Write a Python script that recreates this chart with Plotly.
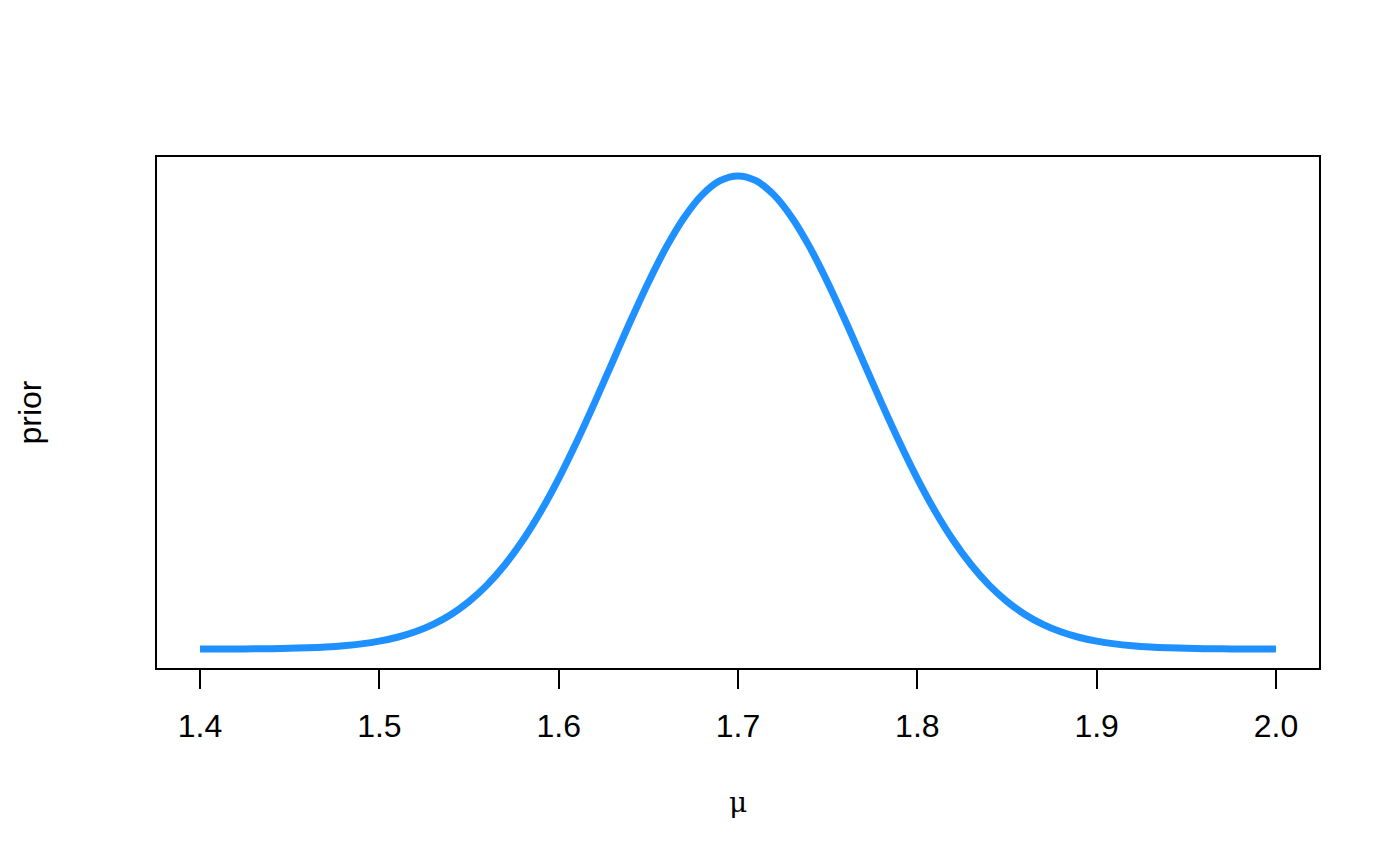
import plotly.graph_objects as go

# prior density (mu on x, prior height on y)
mu = [1.40, 1.41, 1.42, 1.43, 1.44, 1.45, 1.46, 1.47, 1.48, 1.49,
      1.50, 1.51, 1.52, 1.53, 1.54, 1.55, 1.56, 1.57, 1.58, 1.59,
      1.60, 1.61, 1.62, 1.63, 1.64, 1.65, 1.66, 1.67, 1.68, 1.69,
      1.70, 1.71, 1.72, 1.73, 1.74, 1.75, 1.76, 1.77, 1.78, 1.79,
      1.80, 1.81, 1.82, 1.83, 1.84, 1.85, 1.86, 1.87, 1.88, 1.89,
      1.90, 1.91, 1.92, 1.93, 1.94, 1.95, 1.96, 1.97, 1.98, 1.99, 2.00]
prior = [0.0006, 0.0011, 0.002, 0.0033, 0.006, 0.0097, 0.016, 0.026, 0.041, 0.063,
         0.096, 0.143, 0.209, 0.299, 0.418, 0.574, 0.771, 1.016, 1.311, 1.658,
         2.054, 2.494, 2.966, 3.457, 3.948, 4.416, 4.841, 5.199, 5.471, 5.641,
         5.699, 5.641, 5.471, 5.199, 4.841, 4.416, 3.948, 3.457, 2.966, 2.494,
         2.054, 1.658, 1.311, 1.016, 0.771, 0.574, 0.418, 0.299, 0.209, 0.143,
         0.096, 0.063, 0.041, 0.026, 0.016, 0.0097, 0.006, 0.0033, 0.002, 0.0011, 0.0006]
x_ticks = [1.4, 1.5, 1.6, 1.7, 1.8, 1.9, 2.0]
x_tick_labels = ["1.4", "1.5", "1.6", "1.7", "1.8", "1.9", "2.0"]

font = "Liberation Sans, Arial, Helvetica, sans-serif"

fig = go.Figure()
fig.add_trace(go.Scatter(
    x=mu, y=prior, mode="lines",
    line=dict(color="#1E90FF", width=7, shape="spline"),
    hoverinfo="x+y", showlegend=False
))

# R style: 4% padding on both axes
xr = max(mu) - min(mu)
yr = max(prior) - min(prior)

fig.update_xaxes(
    range=[min(mu) - 0.04 * xr, max(mu) + 0.04 * xr],
    tickvals=x_ticks, ticktext=x_tick_labels,
    ticks="outside", ticklen=19, tickwidth=1.5, tickcolor="black",
    showline=True, linecolor="black", linewidth=1.5, mirror=True,
    showgrid=False, zeroline=False,
    tickfont=dict(family=font, size=32, color="black"),
    ticklabelstandoff=10,
)
fig.update_yaxes(
    range=[min(prior) - 0.04 * yr, max(prior) + 0.04 * yr],
    showticklabels=False, ticks="",
    showline=True, linecolor="black", linewidth=1.5, mirror=True,
    showgrid=False, zeroline=False,
)

fig.add_annotation(text="\u03bc", x=0.5, y=-0.264, xref="paper", yref="paper",
                   showarrow=False, yanchor="middle", xanchor="center",
                   font=dict(family="DejaVu Serif, serif", size=28, color="black"))
fig.add_annotation(text="prior", x=-0.1093, y=0.5, xref="paper", yref="paper",
                   showarrow=False, textangle=-90, xanchor="center", yanchor="middle",
                   font=dict(family=font, size=32, color="black"))

# page body has an 8px margin, so margins are shifted to land the box where R put it
fig.update_layout(
    width=1400, height=865,
    margin=dict(l=149, r=89, t=149, b=205),
    plot_bgcolor="white", paper_bgcolor="white",
)

fig.write_html("out.html")
